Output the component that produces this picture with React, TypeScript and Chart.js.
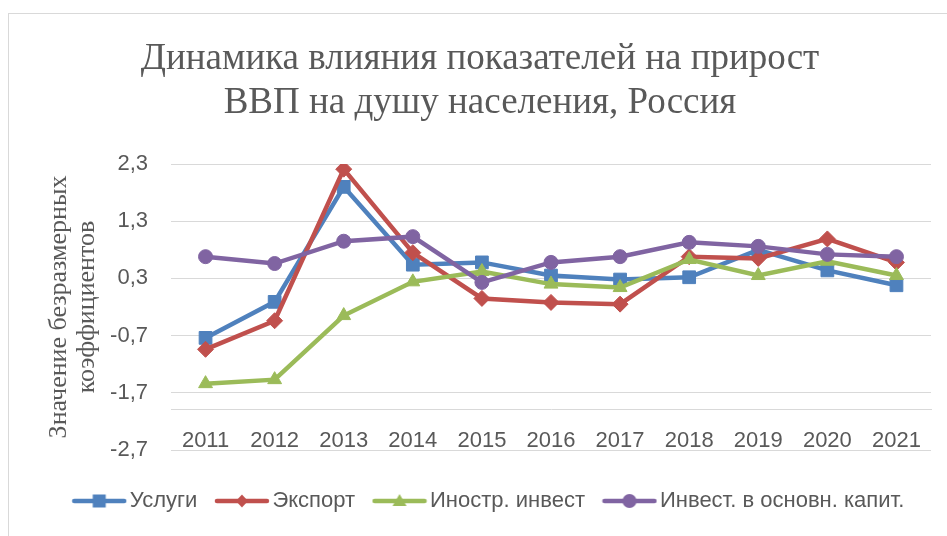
import React, { useEffect, useRef } from 'react';
import { Chart, registerables } from 'chart.js';

Chart.register(...registerables);

const categories = ['2011', '2012', '2013', '2014', '2015', '2016', '2017', '2018', '2019', '2020', '2021'];
const uslugi = [-0.74, -0.11, 1.9, 0.54, 0.58, 0.35, 0.28, 0.32, 0.8, 0.44, 0.18];
const eksport = [-0.94, -0.44, 2.21, 0.75, -0.05, -0.12, -0.15, 0.68, 0.65, 0.99, 0.58];
const inostrInvest = [-1.54, -1.47, -0.35, 0.24, 0.42, 0.2, 0.14, 0.63, 0.35, 0.6, 0.35];
const investOsnKapit = [0.68, 0.56, 0.95, 1.03, 0.23, 0.58, 0.68, 0.93, 0.86, 0.72, 0.68];
const yTicks = [2.3, 1.3, 0.3, -0.7, -1.7, -2.7];
const seriesNames = ['Услуги', 'Экспорт', 'Иностр. инвест', 'Инвест. в основн. капит.'];
const titleLines = ['Динамика влияния показателей на прирост', 'ВВП на душу населения, Россия'];
const yTitleLines = ['Значение безразмерных', 'коэффициентов'];

const colors = ['#4f81bd', '#c0504d', '#9bbb59', '#8064a2'];
const styles = ['rect', 'rectRot', 'triangle', 'circle'];
const radii = [9, 8, 8, 7];
const TEXT = '#595959';
const GRID = '#d9d9d9';

function makeSwatch(color: string, style: string): HTMLCanvasElement {
  const c = document.createElement('canvas');
  c.width = 56;
  c.height = 20;
  const ctx = c.getContext('2d')!;
  const cy = 10;
  const cx = 28;
  ctx.strokeStyle = color;
  ctx.fillStyle = color;
  ctx.lineWidth = 4.5;
  ctx.lineCap = 'round';
  ctx.beginPath();
  ctx.moveTo(3, cy);
  ctx.lineTo(53, cy);
  ctx.stroke();
  ctx.beginPath();
  if (style === 'rect') {
    ctx.rect(cx - 6.5, cy - 6.5, 13, 13);
  } else if (style === 'rectRot') {
    ctx.moveTo(cx, cy - 6.5);
    ctx.lineTo(cx + 6, cy);
    ctx.lineTo(cx, cy + 6.5);
    ctx.lineTo(cx - 6, cy);
    ctx.closePath();
  } else if (style === 'triangle') {
    ctx.moveTo(cx, cy - 7);
    ctx.lineTo(cx + 7, cy + 5);
    ctx.lineTo(cx - 7, cy + 5);
    ctx.closePath();
  } else {
    ctx.arc(cx, cy, 7, 0, Math.PI * 2);
  }
  ctx.fill();
  return c;
}

const shiftLegend = {
  id: 'shiftLegend',
  afterLayout(chart: any) {
    const lg = chart.legend;
    if (lg) {
      lg.top += 15;
      lg.bottom += 15;
      lg.left += 12;
      lg.right += 12;
    }
  },
};

export default function App() {
  const ref = useRef<HTMLCanvasElement>(null);

  useEffect(() => {
    if (!ref.current) return;
    const values = [uslugi, eksport, inostrInvest, investOsnKapit];
    const swatches = colors.map((c, i) => makeSwatch(c, styles[i]));
    const datasets = values.map((data, i) => ({
      label: seriesNames[i],
      data,
      borderColor: colors[i],
      backgroundColor: colors[i],
      borderWidth: 4.5,
      pointStyle: styles[i] as any,
      pointRadius: radii[i],
      pointBorderWidth: 1,
      pointBorderColor: colors[i],
      pointBackgroundColor: colors[i],
      tension: 0,
      order: 4 - i,
    }));

    const chart = new Chart(ref.current, {
      type: 'line',
      data: { labels: categories, datasets },
      plugins: [shiftLegend],
      options: {
        animation: false,
        responsive: false,
        devicePixelRatio: 1,
        layout: { padding: { left: 20, right: 16, top: 0, bottom: 29 } },
        plugins: {
          title: {
            display: true,
            text: titleLines,
            color: TEXT,
            font: { family: 'Liberation Serif', size: 37, weight: 'normal', lineHeight: 44 / 37 },
            padding: { top: 23, bottom: 39 },
          },
          legend: {
            display: true,
            position: 'bottom',
            labels: {
              usePointStyle: true,
              pointStyleWidth: 39,
              padding: 25,
              color: TEXT,
              font: { family: 'Liberation Sans', size: 22 },
              generateLabels: (ch: any) =>
                ch.data.datasets.map((ds: any, i: number) => ({
                  text: ds.label,
                  fillStyle: colors[i],
                  strokeStyle: colors[i],
                  lineWidth: 0,
                  pointStyle: swatches[i],
                  datasetIndex: i,
                  hidden: false,
                  fontColor: TEXT,
                })),
            },
          },
          tooltip: { enabled: false },
        },
        scales: {
          x: {
            type: 'category',
            position: { y: -2 } as any,
            offset: true,
            grid: { display: true, color: 'rgba(0,0,0,0)', drawTicks: false },
            border: { display: true, color: GRID, width: 1 },
            ticks: {
              color: TEXT,
              padding: 18,
              font: { family: 'Liberation Sans', size: 22 },
              maxRotation: 0,
              autoSkip: false,
            },
            afterFit: (scale: any) => {
              scale.height = 0;
            },
          },
          y: {
            type: 'linear',
            min: -2.7,
            max: 2.3,
            grid: { color: GRID, lineWidth: 1, drawTicks: false },
            border: { display: false },
            ticks: {
              color: TEXT,
              padding: 23,
              font: { family: 'Liberation Sans', size: 22 },
              callback: (v: any) => Number(v).toFixed(1).replace('.', ','),
            },
            afterBuildTicks: (scale: any) => {
              scale.ticks = yTicks.map((v) => ({ value: v }));
            },
            afterFit: (scale: any) => {
              scale.width = 142;
            },
            title: {
              display: true,
              text: yTitleLines,
              color: TEXT,
              font: { family: 'Liberation Serif', size: 26, lineHeight: 28 / 26 },
              padding: { top: 16, bottom: 0 },
            },
          },
        },
      },
    });
    return () => chart.destroy();
  }, []);

  return (
    <div
      style={{
        position: 'absolute',
        left: 8,
        top: 13,
        borderLeft: '1px solid #d9d9d9',
        borderTop: '1px solid #d9d9d9',
        background: '#ffffff',
      }}
    >
      <canvas ref={ref} width={938} height={522} style={{ display: 'block', width: 938, height: 522 }} />
    </div>
  );
}
